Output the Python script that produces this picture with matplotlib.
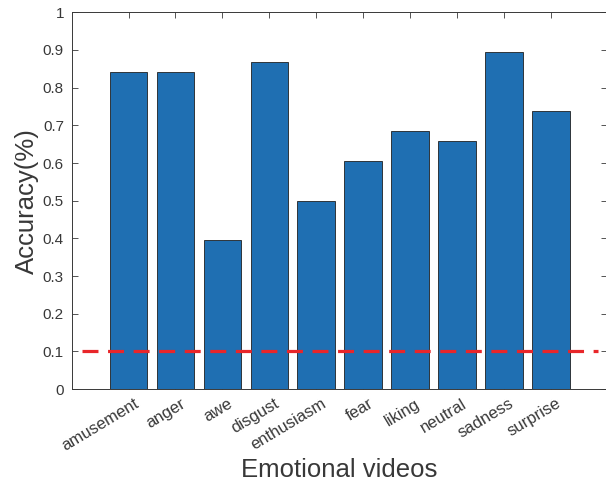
import matplotlib
matplotlib.use("Agg")
import matplotlib.pyplot as plt
from matplotlib.transforms import ScaledTranslation

emotions = ["amusement", "anger", "awe", "disgust", "enthusiasm",
            "fear", "liking", "neutral", "sadness", "surprise"]
accuracy = [0.842, 0.842, 0.395, 0.868, 0.500,
            0.605, 0.684, 0.658, 0.894, 0.737]
chance_level = 0.1
y_ticks = [0, 0.1, 0.2, 0.3, 0.4, 0.5, 0.6, 0.7, 0.8, 0.9, 1]
y_tick_labels = ["0", "0.1", "0.2", "0.3", "0.4", "0.5", "0.6", "0.7", "0.8", "0.9", "1"]

plt.rcParams["font.family"] = ["Liberation Sans", "DejaVu Sans"]
axis_grey = "#383838"

fig = plt.figure(figsize=(6.06, 4.91), dpi=100)
ax = fig.add_axes([0.1193, 0.2077, 0.8824, 0.7672])

x = list(range(1, len(emotions) + 1))
ax.bar(x, accuracy, width=0.8, color="#1f6fb2", edgecolor="#202020", linewidth=0.6, zorder=2)
ax.plot([0, len(emotions) + 1], [chance_level, chance_level], color="#e8262a",
        linewidth=2.3, linestyle=(0, (5, 3)), zorder=3)

ax.set_xlim(-0.2, len(emotions) + 1.2)
ax.set_ylim(0, 1)
ax.set_xticks(x)
ax.set_xticklabels(emotions, rotation=31, ha="right", rotation_mode="anchor",
                   fontsize=12, color=axis_grey)
ax.set_yticks(y_ticks)
ax.set_yticklabels(y_tick_labels, fontsize=11, color=axis_grey)
ax.tick_params(direction="in", length=4, width=0.6, color=axis_grey,
               top=True, right=True, pad=6)
ax.tick_params(axis="x", pad=5)
# nudge the slanted labels so their ends sit just right of the ticks
nudge = ScaledTranslation(5 / 100, 0, fig.dpi_scale_trans)
for lbl in ax.get_xticklabels():
    lbl.set_transform(lbl.get_transform() + nudge)
for side in ax.spines.values():
    side.set_color(axis_grey)
    side.set_linewidth(0.7)

ax.set_xlabel("Emotional videos", fontsize=18.5, color=axis_grey, labelpad=3)
ax.set_ylabel("Accuracy(%)", fontsize=18.5, color=axis_grey, labelpad=3)

fig.savefig("out.png", dpi=100)
